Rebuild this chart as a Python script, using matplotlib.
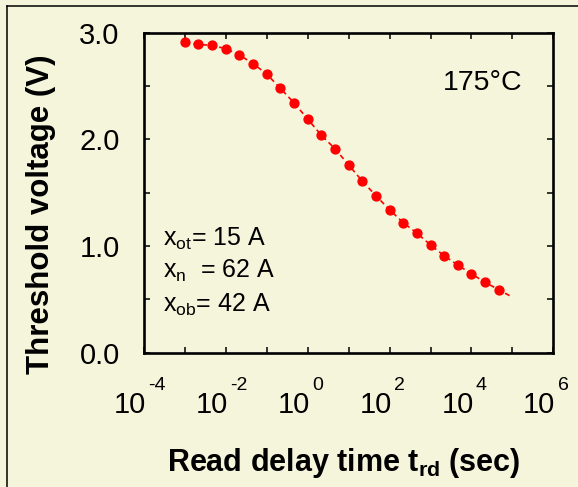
import matplotlib
matplotlib.use("Agg")
import matplotlib.pyplot as plt
from matplotlib.lines import Line2D
from matplotlib.ticker import FixedLocator, FuncFormatter, MultipleLocator, NullFormatter
import numpy as np

plt.rcParams["font.family"] = ["Liberation Sans", "DejaVu Sans"]
plt.rcParams["mathtext.fontset"] = "custom"
plt.rcParams["mathtext.rm"] = "Liberation Sans"
plt.rcParams["mathtext.it"] = "Liberation Sans:italic"
plt.rcParams["mathtext.bf"] = "Liberation Sans:bold"
plt.rcParams["mathtext.default"] = "regular"

BG = "#f5f5dc"
RED = "#ff0000"

# read delay (log10 of seconds) and measured threshold voltage at 175 C
log_t = [-3.00, -2.67, -2.33, -2.00, -1.67, -1.33, -1.00, -0.67, -0.33, 0.00,
         0.33, 0.67, 1.00, 1.33, 1.67, 2.00, 2.33, 2.67, 3.00, 3.33,
         3.67, 4.00, 4.33, 4.67]
vth = [2.91, 2.89, 2.88, 2.85, 2.79, 2.71, 2.61, 2.48, 2.34, 2.19,
       2.04, 1.91, 1.76, 1.61, 1.47, 1.34, 1.22, 1.12, 1.01, 0.91,
       0.82, 0.74, 0.66, 0.59]
# simulated curve runs on to 1e5 s
fit_log_t = log_t + [5.00]
fit_v = vth + [0.52]

x_decades = [-4, -3, -2, -1, 0, 1, 2, 3, 4, 5, 6]
x_labelled = [-4, -2, 0, 2, 4, 6]
notes = [r"x$_{ot}$= 15 A", r"x$_{n}$  = 62 A", r"x$_{ob}$= 42 A"]

fig = plt.figure(figsize=(5.78, 4.87), dpi=100, facecolor=BG)
ax = fig.add_axes([0.2491, 0.2758, 0.7082, 0.6571], facecolor=BG)

ax.plot(10.0 ** np.array(fit_log_t), fit_v, color=RED, lw=1.2,
        dashes=(3, 2.2), zorder=2)
ax.plot(10.0 ** np.array(log_t), vth, "o", color=RED, ms=6.4, mec=RED,
        zorder=3)

ax.set_xscale("log")
ax.set_xlim(1e-4, 1e6)
ax.set_ylim(0, 3.0)

ax.xaxis.set_major_locator(FixedLocator([10.0 ** d for d in x_decades]))
ax.xaxis.set_minor_locator(FixedLocator([]))
ax.xaxis.set_major_formatter(NullFormatter())
ax.yaxis.set_major_locator(MultipleLocator(0.5))
ax.yaxis.set_major_formatter(FuncFormatter(
    lambda v, _: f"{v:.1f}" if abs(v - round(v)) < 1e-6 else ""))

ax.tick_params(direction="in", length=4, width=1.1, top=True, right=True,
               labelsize=21)
ax.tick_params(axis="y", pad=17.5)
for s in ax.spines.values():
    s.set_linewidth(1.9)

# decade labels: "10" with a raised exponent, hyphen instead of minus sign
for d in x_labelled:
    ax.annotate("10", xy=(10.0 ** d, 0), xycoords=("data", "axes fraction"),
                xytext=(1.5, -43.6), textcoords="offset points",
                fontsize=21, ha="right", va="baseline", annotation_clip=False)
    ax.annotate(f"{d}", xy=(10.0 ** d, 0), xycoords=("data", "axes fraction"),
                xytext=(3.2, -26.9), textcoords="offset points",
                fontsize=14, ha="left", va="baseline", annotation_clip=False)

ax.set_ylabel("Threshold voltage (V)", fontsize=22.5, fontweight="bold")
ax.yaxis.set_label_coords(-0.215, 0.434)
ax.set_xlabel(r"Read delay time t$_{\mathbf{rd}}$ (sec)", fontsize=22,
              fontweight="bold")
ax.xaxis.set_label_coords(0.487, -0.2916)

ax.text(0.7313, 0.821, "175°C", transform=ax.transAxes, fontsize=20.5,
        ha="left", va="baseline")
for y, s in zip([0.3334, 0.2325, 0.128], notes):
    ax.text(0.0466, y, s, transform=ax.transAxes, fontsize=18,
            ha="left", va="baseline")

# frame lines along the left and top edge of the panel
fig.add_artist(Line2D([0.0116, 0.0116], [0.0, 0.9883], color="black",
                      lw=1.1, transform=fig.transFigure))
fig.add_artist(Line2D([0.0116, 1.0], [0.9883, 0.9883], color="black",
                      lw=1.1, transform=fig.transFigure))

fig.savefig("out.png", dpi=100, facecolor=BG)
